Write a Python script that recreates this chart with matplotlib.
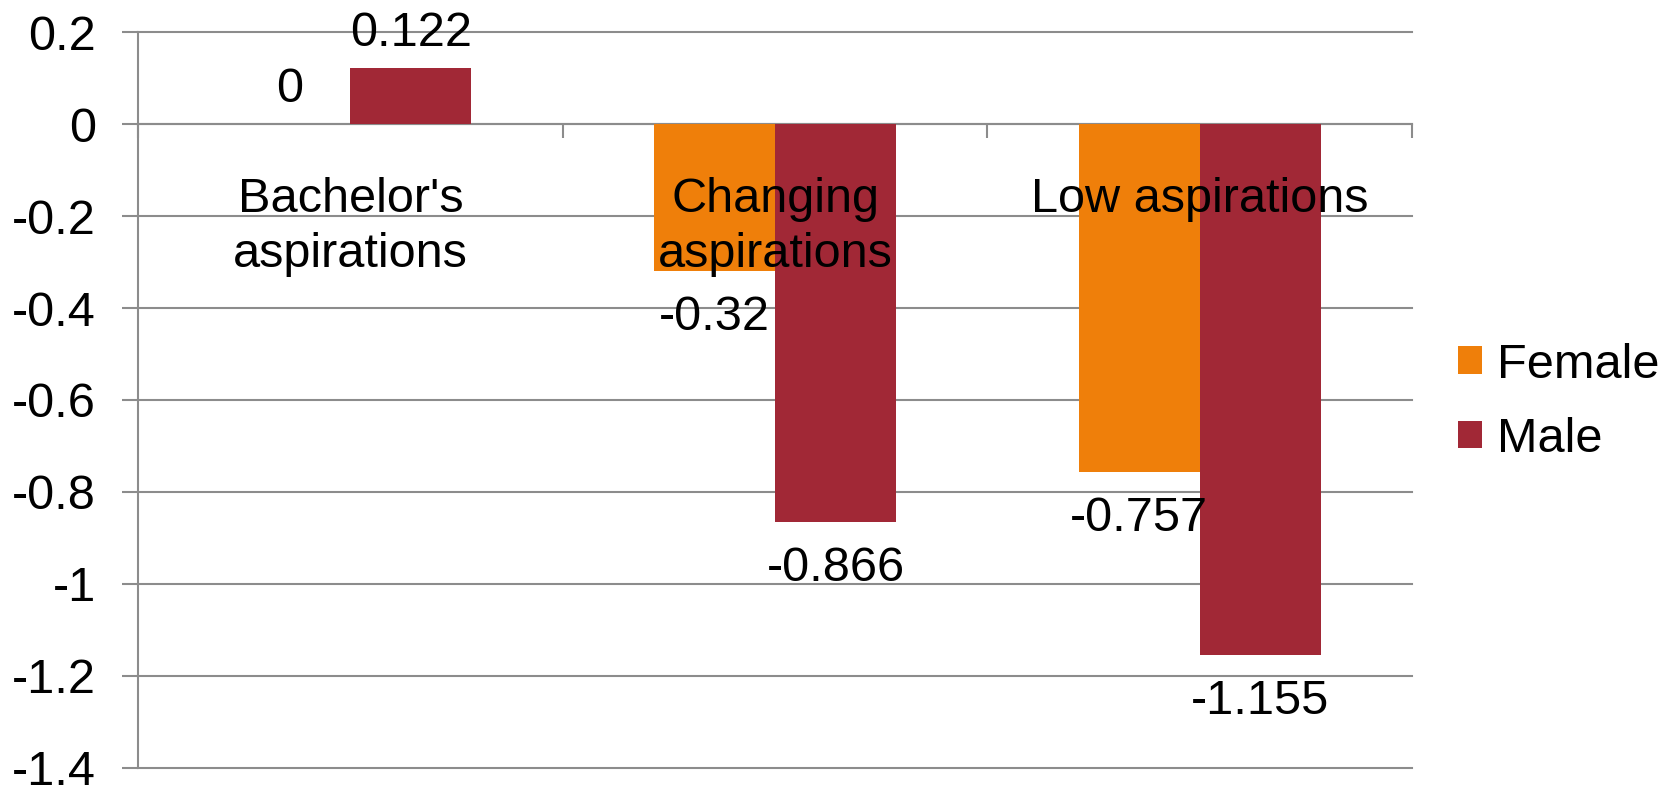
import numpy as np
import matplotlib
matplotlib.use("Agg")
import matplotlib.pyplot as plt
from matplotlib.ticker import FuncFormatter

plt.rcParams["font.family"] = ["Liberation Sans", "DejaVu Sans"]
plt.rcParams["axes.unicode_minus"] = False

categories = ["Bachelor's\naspirations", "Changing\naspirations", "Low aspirations"]
series = ["Female", "Male"]
female = [0, -0.32, -0.757]
male = [0.122, -0.866, -1.155]
y_ticks = [0.2, 0, -0.2, -0.4, -0.6, -0.8, -1, -1.2, -1.4]

colors = ["#EF7F0A", "#A12836"]
grey = "#8C8C8C"
fs = 35

fig = plt.figure(figsize=(16.69, 7.85), dpi=100)
ax = fig.add_axes([0.0827, 0.022, 0.7633, 0.937])

x = np.arange(len(categories))
w = 0.285
bars_f = ax.bar(x - w / 2, female, w, color=colors[0], label=series[0], zorder=2)
bars_m = ax.bar(x + w / 2, male, w, color=colors[1], label=series[1], zorder=2)

# value labels above positive bars, below negative ones
for bars, vals in [(bars_f, female), (bars_m, male)]:
    for b, v in zip(bars, vals):
        cx = b.get_x() + b.get_width() / 2
        if v >= 0:
            ax.annotate(f"{v:g}", (cx, v), xytext=(0, 16), textcoords="offset points",
                        ha="center", va="baseline", fontsize=fs, zorder=4)
        else:
            ax.annotate(f"{v:g}", (cx, v), xytext=(0, -17), textcoords="offset points",
                        ha="center", va="top", fontsize=fs, zorder=4)

# category labels just under the zero line
for i, c in enumerate(categories):
    ax.annotate(c, (i, 0), xytext=(0, -38), textcoords="offset points",
                ha="center", va="top", fontsize=fs, linespacing=1.3, zorder=5)

ax.set_xlim(-0.5, len(categories) - 0.5)
ax.set_ylim(-1.4, 0.2)
ax.set_yticks(y_ticks)
ax.yaxis.set_major_formatter(FuncFormatter(lambda v, p: f"{round(v, 1):g}" if abs(v) > 1e-9 else "0"))
ax.set_xticks(np.arange(len(categories) + 1) - 0.5)
ax.set_xticklabels([])

ax.spines["top"].set_visible(False)
ax.spines["right"].set_visible(False)
ax.spines["left"].set_color(grey)
ax.spines["left"].set_linewidth(1.5)
ax.spines["bottom"].set_position(("data", 0))
ax.spines["bottom"].set_color(grey)
ax.spines["bottom"].set_linewidth(1.5)
ax.spines["bottom"].set_zorder(1)

ax.tick_params(axis="y", length=11.5, width=1.5, color=grey, pad=19, labelsize=fs)
ax.tick_params(axis="x", length=10, width=1.5, color=grey, direction="out")
ax.grid(axis="y", color=grey, linewidth=1.5, zorder=0)
ax.set_axisbelow(True)
for gl in ax.get_ygridlines():
    gl.set_clip_on(False)

ax.legend(loc="center left", bbox_to_anchor=(1.036, 0.497), frameon=False, fontsize=fs,
          handlelength=0.5, handleheight=0.5, handletextpad=0.3, labelspacing=0.6,
          borderaxespad=0, borderpad=0)

fig.savefig("out.png", dpi=100)
